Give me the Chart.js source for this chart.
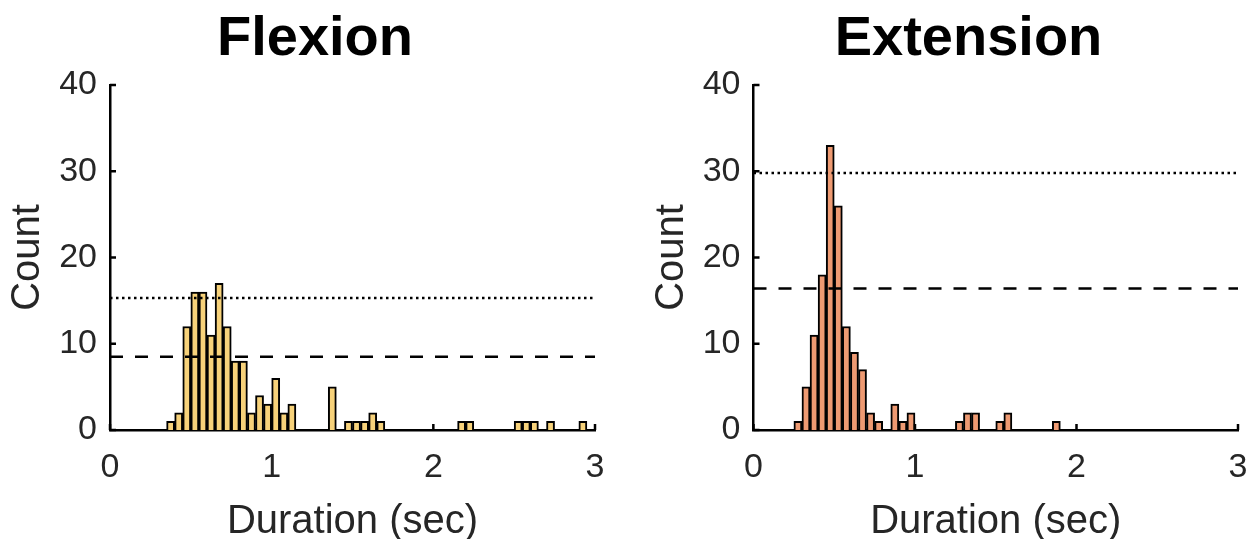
<!DOCTYPE html>
<html>
<head>
<meta charset="utf-8">
<script src="https://cdn.jsdelivr.net/npm/chart.js@4/dist/chart.umd.min.js"></script>
<style>
  html, body { margin: 0; padding: 0; background: #fff; overflow: hidden; width: 1255px; height: 539px; }
  .wrap { position: absolute; top: 0; height: 539px; }
</style>
</head>
<body>
<div class="wrap" style="left:0px;width:630px;"><canvas id="c1"></canvas></div>
<div class="wrap" style="left:627px;width:645px;"><canvas id="c2"></canvas></div>
<script>
// ---- Data ----
const xTicks = [0, 1, 2, 3];
const yTicks = [0, 10, 20, 30, 40];

// Flexion histogram: bin centres (sec, 0.05 s bins) and counts
const flexionBins   = [0.375, 0.425, 0.475, 0.525, 0.575, 0.625, 0.675, 0.725, 0.775, 0.825, 0.875, 0.925, 0.975, 1.025, 1.075, 1.125,
                       1.375, 1.475, 1.525, 1.575, 1.625, 1.675, 2.175, 2.225, 2.525, 2.575, 2.625, 2.725, 2.925];
const flexionCounts = [1, 2, 12, 16, 16, 11, 17, 12, 8, 8, 2, 4, 3, 6, 2, 3,
                       5, 1, 1, 1, 2, 1, 1, 1, 1, 1, 1, 1, 1];
const flexionDotted = 15.3;
const flexionDashed = 8.5;

// Extension histogram
const extensionBins   = [0.275, 0.325, 0.375, 0.425, 0.475, 0.525, 0.575, 0.625, 0.675, 0.725, 0.775, 0.875, 0.925, 0.975,
                         1.275, 1.325, 1.375, 1.525, 1.575, 1.875];
const extensionCounts = [1, 5, 11, 18, 33, 26, 12, 9, 7, 2, 1, 3, 1, 2,
                         1, 2, 2, 1, 2, 1];
const extensionDotted = 29.8;
const extensionDashed = 16.4;

const FONT = "'Liberation Sans', Arial, Helvetica, sans-serif";
const TXT = '#262626';

const inwardTicks = {
  id: 'inwardTicks',
  afterDatasetsDraw(chart) {
    const ctx = chart.ctx, a = chart.chartArea;
    const xs = chart.scales.x, ys = chart.scales.y;
    ctx.save();
    ctx.strokeStyle = '#000';
    ctx.lineWidth = 2.5;
    ctx.beginPath();
    yTicks.forEach(v => { const p = ys.getPixelForValue(v); ctx.moveTo(a.left, p); ctx.lineTo(a.left + 6, p); });
    xTicks.forEach(v => { const p = xs.getPixelForValue(v); ctx.moveTo(p, a.bottom); ctx.lineTo(p, a.bottom - 6); });
    ctx.stroke();
    ctx.restore();
  }
};

function makeChart(id, title, bins, counts, fill, dotted, dashed, padLeft, yWidth, rightPad, yTitlePad) {
  const barData = bins.map((b, i) => ({ x: b, y: counts[i] }));
  return new Chart(document.getElementById(id), {
    type: 'bar',
    data: {
      datasets: [
        { type: 'line', data: [{ x: 0, y: dotted }, { x: 3, y: dotted }], borderColor: '#000', borderWidth: 2.5,
          borderDash: [2.5, 3.5], pointRadius: 0, fill: false, order: 0 },
        { type: 'line', data: [{ x: 0, y: dashed }, { x: 3, y: dashed }], borderColor: '#000', borderWidth: 2.5,
          borderDash: [13, 12], pointRadius: 0, fill: false, order: 0 },
        { type: 'bar', data: barData, backgroundColor: fill, borderColor: '#000', borderWidth: 2,
          barPercentage: 1, categoryPercentage: 1, order: 1 }
      ]
    },
    options: {
      responsive: true,
      maintainAspectRatio: false,
      animation: false,
      layout: { padding: { left: padLeft, top: 0, right: rightPad, bottom: 0 } },
      plugins: {
        legend: { display: false },
        tooltip: { enabled: false },
        title: { display: true, text: title, color: '#000',
                 font: { family: FONT, size: 56, weight: 'bold', lineHeight: 1.2 },
                 padding: { top: 6.4, bottom: 11.4 } }
      },
      scales: {
        x: {
          type: 'linear', min: 0, max: 3, offset: false,
          afterFit(s) { s.height = 109; },
          afterBuildTicks(s) { s.ticks = xTicks.map(v => ({ value: v })); },
          grid: { display: false, drawTicks: false, tickLength: 0 },
          border: { display: true, color: '#000', width: 2.5 },
          ticks: { color: TXT, padding: 17, font: { family: FONT, size: 34 }, maxRotation: 0 },
          title: { display: true, text: 'Duration (sec)', color: TXT, padding: { top: 0, bottom: 0 },
                   font: { family: FONT, size: 40, lineHeight: 0.85 } }
        },
        y: {
          min: 0, max: 40,
          afterFit(s) { s.width = yWidth; },
          afterBuildTicks(s) { s.ticks = yTicks.map(v => ({ value: v })); },
          grid: { display: false, drawTicks: false, tickLength: 0 },
          border: { display: true, color: '#000', width: 2.5 },
          ticks: { color: TXT, padding: 13, font: { family: FONT, size: 34 } },
          title: { display: true, text: 'Count', color: TXT, padding: { top: yTitlePad, bottom: 0 },
                   font: { family: FONT, size: 40, lineHeight: 1 } }
        }
      }
    },
    plugins: [inwardTicks]
  });
}

// left chart: canvas 0..630, chart area 110..595
makeChart('c1', 'Flexion', flexionBins, flexionCounts, '#F7D27A', flexionDotted, flexionDashed, 35, 75, 35, -27);
// right chart: canvas 627..1272 (clipped by window), chart area 753.5..1238
makeChart('c2', 'Extension', extensionBins, extensionCounts, '#EE9A72', extensionDotted, extensionDashed, 72, 54.5, 34, -47.5);
</script>
</body>
</html>
